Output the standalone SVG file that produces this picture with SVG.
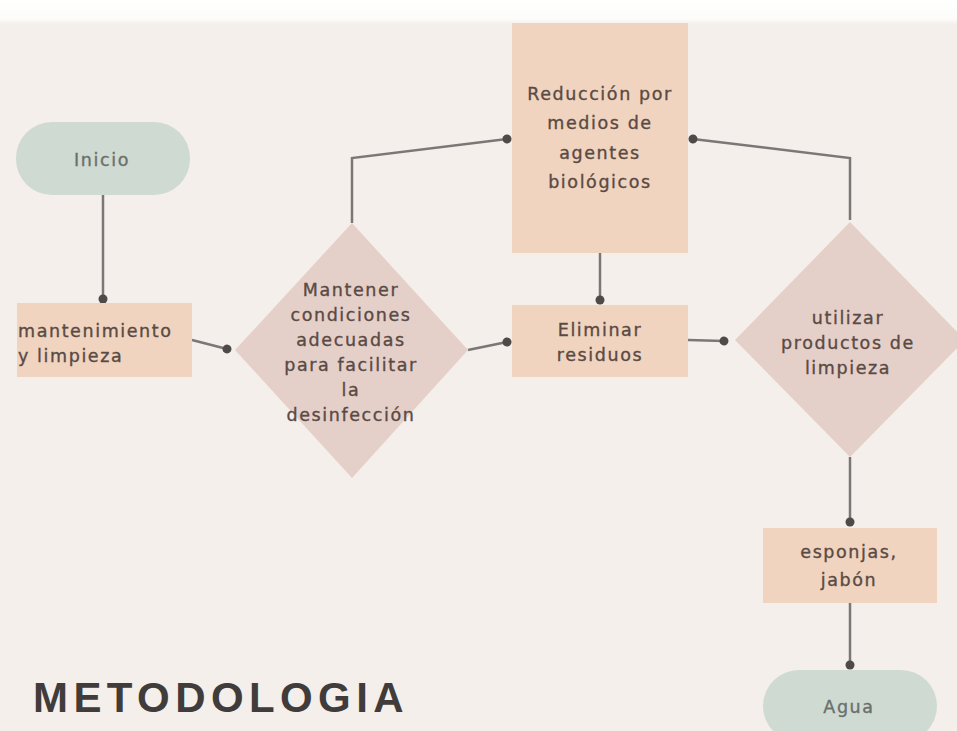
<svg xmlns="http://www.w3.org/2000/svg" width="957" height="731" viewBox="0 0 957 731">
  <defs>
    <linearGradient id="topband" x1="0" y1="0" x2="0" y2="1">
      <stop offset="0" stop-color="#ffffff"/>
      <stop offset="0.8" stop-color="#fdfcfb"/>
      <stop offset="1" stop-color="#f4efea"/>
    </linearGradient>
    <marker id="dot" markerUnits="userSpaceOnUse" markerWidth="12" markerHeight="12" refX="6" refY="6" orient="auto">
      <circle cx="6" cy="6" r="4.5" fill="#4e4a48"/>
    </marker>
    <style>
      .box { fill: #f0d4bf; }
      .dia { fill: #e5d0c9; }
      .pill { fill: #cfdad2; }
      .t { font-family: "DejaVu Sans", "Liberation Sans", sans-serif; font-size: 17.5px; letter-spacing: 1.6px; fill: #5a4a44; stroke: #5a4a44; stroke-width: 0.35px; text-anchor: middle; }
      .tl { text-anchor: start; }
      .tp { fill: #6a706c; stroke: #6a706c; }
      .conn { fill: none; stroke: #7a7776; stroke-width: 2.5; marker-end: url(#dot); }
      .title { font-family: "Liberation Sans", "DejaVu Sans", sans-serif; font-size: 42px; font-weight: bold; letter-spacing: 5.4px; fill: #3f3c3b; }
    </style>
  </defs>

  <rect x="0" y="0" width="957" height="731" fill="#f4efea"/>
  <rect x="0" y="0" width="957" height="24" fill="url(#topband)"/>

  <g id="connectors">
    <polyline class="conn" points="103,195 103,299"/>
    <polyline class="conn" points="192,340 227,349"/>
    <polyline class="conn" points="352,223 352,158 507,139"/>
    <polyline class="conn" points="468,350 507,342"/>
    <polyline class="conn" points="600,193 600,300"/>
    <polyline class="conn" points="688,340 724,341"/>
    <polyline class="conn" points="850,220 850,158 693,139"/>
    <polyline class="conn" points="850,457 850,522"/>
    <polyline class="conn" points="850,603 850,665"/>
  </g>

  <g id="inicio">
    <rect class="pill" x="16" y="122" width="174" height="73" rx="36"/>
    <text class="t tp" x="102" y="166">Inicio</text>
  </g>

  <g id="mantenimiento">
    <rect class="box" x="17" y="303" width="175" height="74"/>
    <text class="t tl" x="18" y="337">mantenimiento</text>
    <text class="t tl" x="18" y="362">y limpieza</text>
  </g>

  <g id="mantener">
    <polygon class="dia" points="352,223 468,350 352,478 235,350"/>
    <text class="t" x="351" y="296">Mantener</text>
    <text class="t" x="351" y="321">condiciones</text>
    <text class="t" x="351" y="346">adecuadas</text>
    <text class="t" x="351" y="371">para facilitar</text>
    <text class="t" x="351" y="396">la</text>
    <text class="t" x="351" y="421">desinfección</text>
  </g>

  <g id="reduccion">
    <rect class="box" x="512" y="23" width="176" height="230"/>
    <text class="t" x="600" y="100">Reducción por</text>
    <text class="t" x="600" y="129">medios de</text>
    <text class="t" x="600" y="159">agentes</text>
    <text class="t" x="600" y="188">biológicos</text>
  </g>

  <g id="eliminar">
    <rect class="box" x="512" y="305" width="176" height="72"/>
    <text class="t" x="600" y="336">Eliminar</text>
    <text class="t" x="600" y="361">residuos</text>
  </g>

  <g id="utilizar">
    <polygon class="dia" points="850,222 965,340 850,457 735,340"/>
    <text class="t" x="848" y="324">utilizar</text>
    <text class="t" x="848" y="349">productos de</text>
    <text class="t" x="848" y="374">limpieza</text>
  </g>

  <g id="esponjas">
    <rect class="box" x="763" y="528" width="174" height="75"/>
    <text class="t" x="849" y="558">esponjas,</text>
    <text class="t" x="849" y="586">jabón</text>
  </g>

  <g id="agua">
    <rect class="pill" x="763" y="670" width="174" height="72" rx="36"/>
    <text class="t tp" x="849" y="713">Agua</text>
  </g>

  <text class="title" x="33" y="712">METODOLOGIA</text>
</svg>
